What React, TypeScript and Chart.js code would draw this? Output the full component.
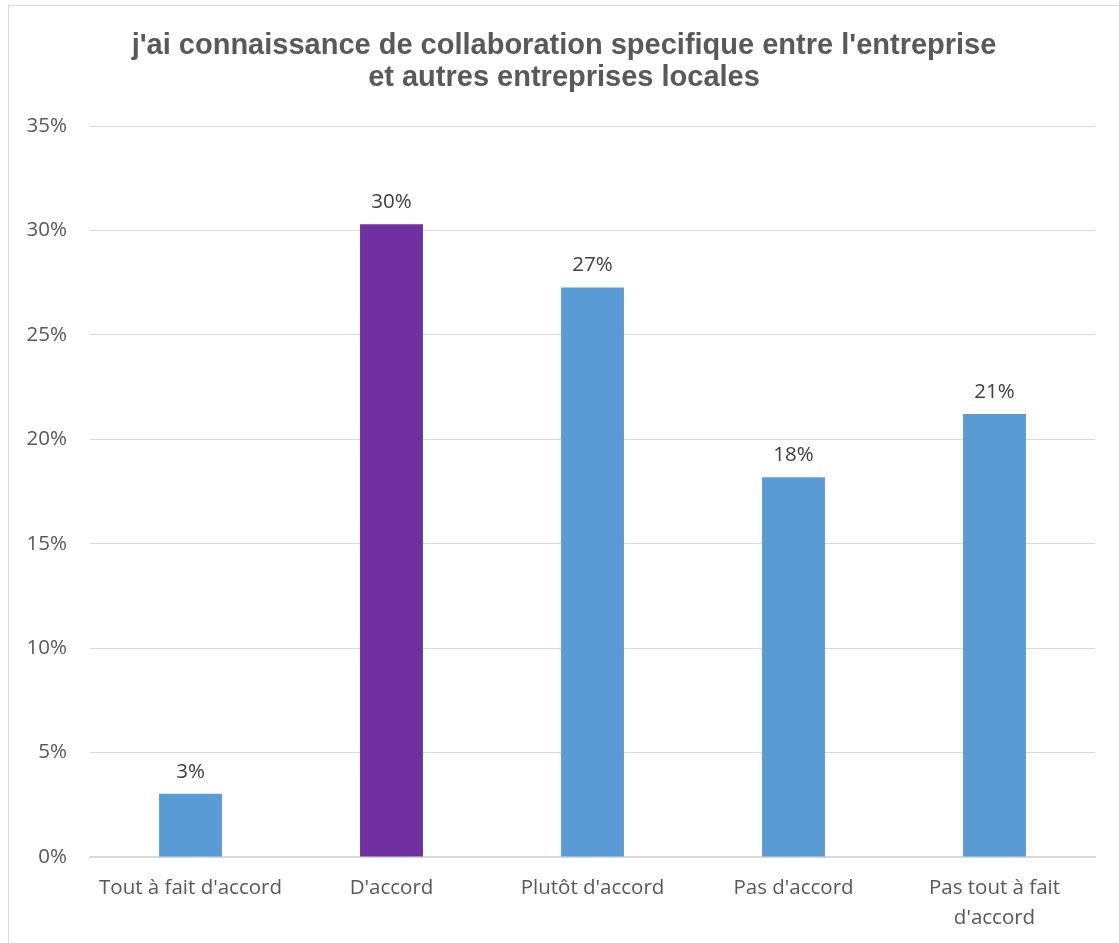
import React, { useEffect, useRef } from "react";
import { Chart, registerables } from "chart.js";

Chart.register(...registerables);

const titleLines = ["j'ai connaissance de collaboration specifique entre l'entreprise", "et autres entreprises locales"];
const categories: (string | string[])[] = ["Tout à fait d'accord", "D'accord", "Plutôt d'accord", "Pas d'accord", ["Pas tout à fait", "d'accord"]];
const values = [3.03, 30.30, 27.27, 18.18, 21.21];
const barColors = ["#5B9BD5", "#7030A0", "#5B9BD5", "#5B9BD5", "#5B9BD5"];
const yTicks = [0, 5, 10, 15, 20, 25, 30, 35];

const TICK_FONT = "'Open Sans', 'Noto Sans', sans-serif";
const TICK_SIZE = 20.5;

const overlayPlugin = {
  id: "overlay",
  afterDatasetsDraw(chart: any) {
    const ctx = chart.ctx;
    ctx.save();
    // title
    ctx.fillStyle = "#595959";
    ctx.font = "bold 29px 'Liberation Sans', Arial, sans-serif";
    ctx.textAlign = "center";
    ctx.textBaseline = "middle";
    titleLines.forEach((t, i) => ctx.fillText(t, 564, 46 + i * 32));
    // data labels
    const meta = chart.getDatasetMeta(0);
    ctx.fillStyle = "#404040";
    ctx.font = `${TICK_SIZE}px ${TICK_FONT}`;
    meta.data.forEach((bar: any, i: number) => {
      ctx.fillText(Math.round(values[i]) + "%", bar.x, bar.y - 22);
    });
    ctx.restore();
  },
};

export default function App() {
  const ref = useRef<HTMLCanvasElement>(null);
  useEffect(() => {
    if (!ref.current) return;
    const chart = new Chart(ref.current, {
      type: "bar",
      data: {
        labels: categories,
        datasets: [
          {
            data: values,
            backgroundColor: barColors,
            categoryPercentage: 1,
            barPercentage: 0.313,
          },
        ],
      },
      options: {
        responsive: false,
        animation: false,
        layout: { padding: { left: 0, right: 24, top: 126, bottom: 0 } },
        plugins: { legend: { display: false }, title: { display: false }, tooltip: { enabled: false } },
        scales: {
          x: {
            grid: { display: false, drawTicks: false },
            border: { display: true, color: "#D9D9D9", width: 1.5 },
            ticks: {
              color: "#595959",
              font: { family: TICK_FONT, size: TICK_SIZE, lineHeight: 1.42 },
              padding: 17,
              maxRotation: 0,
              autoSkip: false,
            },
            afterFit: (s: any) => {
              s.height = 86;
            },
          },
          y: {
            min: 0,
            max: 35,
            afterBuildTicks: (s: any) => {
              s.ticks = yTicks.map((v) => ({ value: v }));
            },
            grid: { color: "#D9D9D9", lineWidth: 1, drawTicks: false },
            border: { display: false },
            ticks: {
              color: "#595959",
              font: { family: TICK_FONT, size: TICK_SIZE },
              padding: 23,
              callback: (v: any) => v + "%",
            },
            afterFit: (s: any) => {
              s.width = 90;
            },
          },
        },
      },
      plugins: [overlayPlugin],
    });
    return () => chart.destroy();
  }, []);
  return (
    <div style={{ position: "fixed", left: 0, top: 0, width: 1119, height: 943, background: "#fff" }}>
      <div
        style={{
          position: "absolute",
          left: 8,
          top: 5,
          width: 1111,
          height: 938,
          borderTop: "1px solid #D9D9D9",
          borderLeft: "1px solid #D9D9D9",
          boxSizing: "border-box",
        }}
      />
      <canvas ref={ref} width={1119} height={943} style={{ position: "absolute", left: 0, top: 0 }} />
    </div>
  );
}
